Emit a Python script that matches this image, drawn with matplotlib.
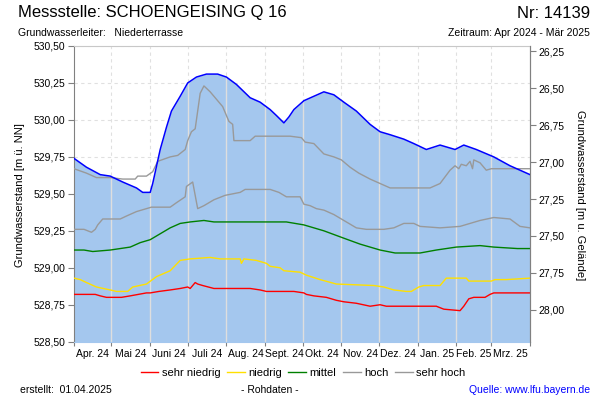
import numpy as np
import matplotlib
matplotlib.use("Agg")
import matplotlib.pyplot as plt
from matplotlib.ticker import FuncFormatter
from matplotlib.lines import Line2D

plt.rcParams['font.family'] = ['Liberation Sans', 'DejaVu Sans']

# days counted from 01.04.2024
month_starts = [0, 30, 61, 91, 122, 153, 183, 214, 244, 275, 306, 334, 365]
month_labels = ['Apr. 24', 'Mai 24', 'Juni 24', 'Juli 24', 'Aug. 24', 'Sept. 24',
                'Okt. 24', 'Nov. 24', 'Dez. 24', 'Jan. 25', 'Feb. 25', 'Mrz. 25']

ground = 556.715  # Geländehöhe for the right axis

# measured level (blue, filled)
level_days = [0, 10, 21, 29, 39, 50, 55, 61, 63, 69, 74, 78, 85, 91, 98, 106, 115, 122,
              130, 141, 149, 157, 162, 168, 172, 176, 184, 192, 200, 208, 216, 226, 237,
              245, 253, 264, 272, 282, 293, 305, 312, 322, 336, 349, 365]
level = [529.74, 529.68, 529.63, 529.62, 529.58, 529.54, 529.51, 529.51, 529.57, 529.80,
         529.95, 530.06, 530.16, 530.25, 530.29, 530.31, 530.31, 530.29, 530.24, 530.15,
         530.12, 530.07, 530.03, 529.98, 530.02, 530.07, 530.13, 530.16, 530.19, 530.17,
         530.12, 530.06, 529.97, 529.92, 529.90, 529.87, 529.84, 529.80, 529.83, 529.80,
         529.83, 529.80, 529.75, 529.69, 529.63]

# sehr hoch
sh_days = [0, 10, 18, 29, 39, 49, 51, 58, 63, 67, 77, 83, 89, 91, 94, 97, 101, 104, 109,
           114, 119, 124, 127, 128, 141, 145, 157, 173, 182, 185, 192, 200, 208, 214, 221,
           228, 237, 245, 253, 269, 285, 293, 301, 305, 308, 310, 314, 317, 319, 320, 325,
           330, 334, 365]
sh = [529.67, 529.64, 529.61, 529.61, 529.60, 529.60, 529.62, 529.62, 529.65, 529.72,
      529.75, 529.76, 529.80, 529.86, 529.92, 529.94, 530.18, 530.23, 530.19, 530.14,
      530.09, 529.99, 529.97, 529.86, 529.86, 529.89, 529.89, 529.89, 529.88, 529.85,
      529.84, 529.77, 529.75, 529.73, 529.68, 529.64, 529.60, 529.57, 529.54, 529.54,
      529.54, 529.57, 529.66, 529.69, 529.67, 529.70, 529.69, 529.72, 529.67, 529.73,
      529.71, 529.66, 529.67, 529.67]

# hoch
h_days = [0, 8, 14, 17, 19, 23, 29, 37, 42, 50, 58, 62, 77, 82, 89, 90, 95, 99, 104, 112,
          121, 133, 137, 157, 164, 170, 181, 184, 189, 194, 200, 208, 216, 226, 234, 248,
          256, 264, 272, 277, 293, 309, 317, 325, 336, 349, 357, 365]
h = [529.26, 529.26, 529.24, 529.26, 529.29, 529.33, 529.33, 529.33, 529.35, 529.38,
     529.40, 529.41, 529.41, 529.44, 529.48, 529.55, 529.58, 529.40, 529.42, 529.46,
     529.49, 529.51, 529.53, 529.53, 529.51, 529.48, 529.48, 529.43, 529.42, 529.40,
     529.39, 529.36, 529.32, 529.27, 529.26, 529.26, 529.27, 529.30, 529.30, 529.28,
     529.27, 529.28, 529.30, 529.32, 529.34, 529.33, 529.28, 529.27]

# mittel
m_days = [0, 8, 15, 29, 37, 45, 53, 61, 69, 77, 85, 93, 104, 112, 170, 184, 200, 216,
          229, 245, 257, 277, 290, 306, 325, 336, 355, 365]
m = [529.12, 529.12, 529.11, 529.12, 529.13, 529.14, 529.17, 529.19, 529.23, 529.27,
     529.30, 529.31, 529.32, 529.31, 529.31, 529.29, 529.25, 529.20, 529.16, 529.12,
     529.10, 529.10, 529.12, 529.14, 529.15, 529.14, 529.13, 529.13]

# niedrig
n_days = [0, 5, 10, 18, 29, 34, 43, 47, 58, 66, 77, 85, 93, 109, 117, 133, 134, 136,
          146, 154, 157, 165, 168, 181, 186, 197, 210, 240, 248, 256, 266, 270, 276, 280,
          293, 298, 314, 316, 334, 337, 346, 365]
n = [528.93, 528.92, 528.90, 528.87, 528.85, 528.84, 528.84, 528.87, 528.89, 528.94,
     528.98, 529.05, 529.06, 529.07, 529.06, 529.06, 529.03, 529.06, 529.05, 529.03,
     529.01, 529.00, 528.98, 528.97, 528.95, 528.92, 528.89, 528.88, 528.87, 528.85,
     528.84, 528.84, 528.87, 528.88, 528.88, 528.93, 528.93, 528.91, 528.91, 528.92,
     528.92, 528.93]

# sehr niedrig
sn_days = [0, 17, 21, 26, 37, 38, 45, 58, 61, 68, 77, 85, 91, 93, 97, 99, 103, 112, 120,
           141, 149, 154, 176, 184, 186, 192, 202, 210, 216, 226, 237, 245, 250, 253, 258,
           290, 296, 309, 312, 316, 320, 329, 333, 336, 365]
sn = [528.82, 528.82, 528.81, 528.80, 528.80, 528.80, 528.81, 528.83, 528.83, 528.84,
      528.85, 528.86, 528.87, 528.86, 528.90, 528.89, 528.88, 528.86, 528.86, 528.86,
      528.85, 528.84, 528.84, 528.83, 528.82, 528.81, 528.80, 528.78, 528.77, 528.76,
      528.74, 528.75, 528.74, 528.74, 528.74, 528.74, 528.72, 528.71, 528.74, 528.79,
      528.80, 528.80, 528.82, 528.83, 528.83]

y_ticks = [528.50, 528.75, 529.00, 529.25, 529.50, 529.75, 530.00, 530.25, 530.50]
depth_ticks = [26.25, 26.50, 26.75, 27.00, 27.25, 27.50, 27.75, 28.00]

fig = plt.figure(figsize=(6, 4), dpi=100)
ax = fig.add_axes([74/600, 1 - 341.7/400, 456/600, 295.7/400])

comma = FuncFormatter(lambda v, p: f"{v:.2f}".replace('.', ','))

# grid below the fill
for yv in y_ticks:
    ax.axhline(yv, color='#e0e0e0', lw=0.8, ls=(0, (3, 3)), zorder=0)
for d in month_starts[1:-1]:
    ax.axvline(d, color='#e0e0e0', lw=0.8, ls=(0, (3, 3)), zorder=0)

ax.fill_between(level_days, 528.5, level, color='#a4c7ee', lw=0, zorder=1)
# month lines over the filled area
for d in month_starts[1:-1]:
    ax.plot([d, d], [528.5, np.interp(d, level_days, level)], color='#dedede', lw=1, zorder=2)

ax.plot(sn_days, sn, color='#ff0000', lw=1, zorder=3)
ax.plot(n_days, n, color='#ffe000', lw=1, zorder=3)
ax.plot(m_days, m, color='#008000', lw=1, zorder=3)
ax.plot(h_days, h, color='#999999', lw=1, zorder=3)
ax.plot(sh_days, sh, color='#999999', lw=1, zorder=3)
ax.plot(level_days, level, color='#0000ff', lw=1.1, zorder=4)

ax.set_xlim(0, 365)
ax.set_ylim(528.5, 530.5)
ax.set_yticks(y_ticks)
ax.yaxis.set_major_formatter(comma)
ax.set_xticks(month_starts)
ax.set_xticklabels([])
mids = [(a + b) / 2 for a, b in zip(month_starts[:-1], month_starts[1:])]
ax.set_xticks(mids, minor=True)
ax.set_xticklabels(month_labels, minor=True, fontsize=7.5)
ax.tick_params(axis='x', which='minor', length=0, pad=5)
ax.tick_params(axis='x', which='major', length=3, color='#808080')
ax.tick_params(axis='y', length=4, color='#808080', labelsize=7.5, pad=2)

for s in ['left', 'right']:
    ax.spines[s].set_color('#808080')
ax.spines['top'].set_color('#c8c8c8')
ax.spines['bottom'].set_color('#a4c7ee')

ax2 = ax.twinx()
ax2.set_ylim(ground - 528.5, ground - 530.5)
ax2.set_yticks(depth_ticks)
ax2.yaxis.set_major_formatter(comma)
ax2.tick_params(axis='y', length=4, color='#808080', labelsize=7.5, pad=2)
ax2.spines['right'].set_color('#808080')
for s in ['left', 'top', 'bottom']:
    ax2.spines[s].set_visible(False)

fig.text(20/600, 1 - 195/400, 'Grundwasserstand [m ü. NN]', rotation=90,
         ha='center', va='center', fontsize=8)
fig.text(580/600, 1 - 195/400, 'Grundwasserstand [m u. Gelände]', rotation=-90,
         ha='center', va='center', fontsize=8)

fig.text(18/600, 1 - 13/400, 'Messstelle: SCHOENGEISING Q 16', fontsize=12, va='center')
fig.text(590/600, 1 - 13/400, 'Nr: 14139', fontsize=12, va='center', ha='right')
fig.text(18/600, 1 - 33/400, 'Grundwasserleiter:   Niederterrasse', fontsize=7.5, va='center')
fig.text(590/600, 1 - 33/400, 'Zeitraum: Apr 2024 - Mär 2025', fontsize=7.5, va='center', ha='right')

handles = [Line2D([], [], color=c, lw=1) for c in ['#ff0000', '#ffe000', '#008000', '#999999', '#999999']]
fig.legend(handles, ['sehr niedrig', 'niedrig', 'mittel', 'hoch', 'sehr hoch'],
           loc='center', bbox_to_anchor=(303/600, 1 - 373/400), ncol=5, frameon=False,
           fontsize=8, handlelength=1.6, handletextpad=0.3, columnspacing=0.6)

fig.text(20/600, 1 - 390/400, 'erstellt:  01.04.2025', fontsize=7.5, va='center')
fig.text(270/600, 1 - 390/400, '- Rohdaten -', fontsize=7.5, va='center', ha='center')
fig.text(590/600, 1 - 390/400, 'Quelle: www.lfu.bayern.de', fontsize=7.5, va='center',
         ha='right', color='#0000ff')

fig.savefig('out.png', dpi=100)
